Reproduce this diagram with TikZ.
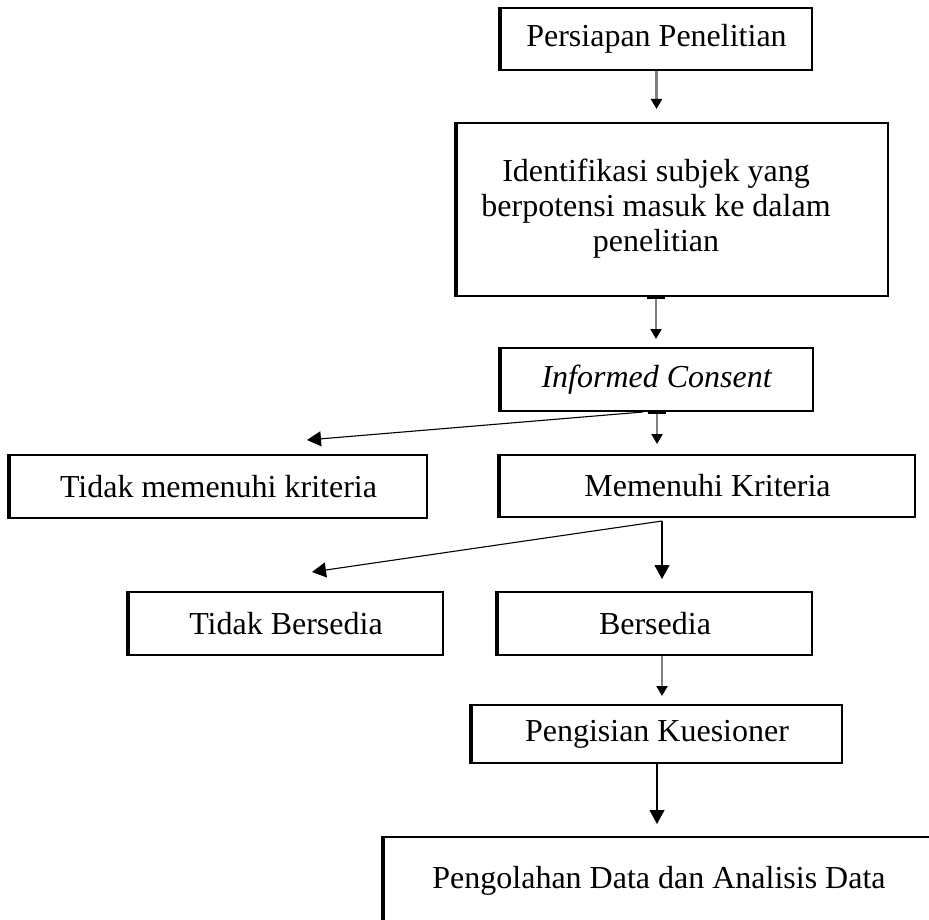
\documentclass[tikz,border=0pt]{standalone}
\usepackage{fontspec}
\setmainfont{Liberation Serif}
\usepackage{tikz}
\usetikzlibrary{positioning,arrows.meta}

\begin{document}
\begin{tikzpicture}[x=0.5pt, y=-0.5pt, font=\fontsize{16}{17.5}\selectfont,
  box/.style={draw, line width=1pt, align=center, inner sep=0pt,
    append after command={(\tikzlastnode.north west) edge[line width=2.2pt] (\tikzlastnode.south west)}},
  smallarr/.style={draw=gray, line width=1.1pt, -{Triangle[color=black, length=5pt, width=5.5pt]}},
  bigarr/.style={draw=black, line width=0.55pt, -{Triangle[length=7pt, width=7.5pt]}}]
\useasboundingbox (0,0) rectangle (929,919);
\node[box, minimum width=155.5pt, minimum height=31pt] (prep) at (656.5,39) {Persiapan Penelitian};
\node[box, minimum width=215.5pt, minimum height=86.5pt] (ident) at (672.5,209.5) {};
\node[align=center] (identtxt) at (656,209) {Identifikasi subjek yang\\ berpotensi masuk ke dalam\\ penelitian};
\node[box, minimum width=156pt, minimum height=31.5pt] (consent) at (657,379.5) {\textit{Informed Consent}};
\node[box, minimum width=208.5pt, minimum height=31.5pt] (notmet) at (218.5,486.5) {Tidak memenuhi kriteria};
\node[box, minimum width=207.5pt, minimum height=31pt] (met) at (707.5,486) {Memenuhi Kriteria};
\node[box, minimum width=157pt, minimum height=31.5pt] (unwilling) at (286,623.5) {Tidak Bersedia};
\node[box, minimum width=157pt, minimum height=31.5pt] (willing) at (655,623.5) {Bersedia};
\node[box, minimum width=185pt, minimum height=29pt] (quest) at (657,734) {Pengisian Kuesioner};
\node[box, minimum width=275pt, minimum height=44pt] (analysis) at (659,881) {Pengolahan Data dan Analisis Data};
% split points and free ends
\coordinate (split) at (662,521);
\coordinate (notmetin) at (307,440);
\coordinate (unwillingin) at (312,572);
\draw[smallarr, shorten >=6.5pt] (prep.south) -- (prep.south |- ident.north);
\draw[smallarr, {Bar[width=9pt, color=black]}-{Triangle[color=black, length=5pt, width=5.5pt]}, shorten >=4pt] (identtxt.south |- ident.south) -- (identtxt.south |- consent.north);
\draw[smallarr, {Bar[width=9pt, color=black]}-{Triangle[color=black, length=5pt, width=5.5pt]}, shorten >=5pt] (consent.south) -- (consent.south |- met.north);
\draw[bigarr] ([xshift=-7pt]consent.south) -- (notmetin);
\draw[bigarr, shorten >=6pt] (split) -- (split |- willing.north);
\draw[bigarr] (split) -- (unwillingin);
\draw[smallarr, shorten >=4pt] (split |- willing.south) -- (split |- quest.north);
\draw[bigarr, shorten >=6pt] (quest.south) -- (quest.south |- analysis.north);
\end{tikzpicture}
\end{document}
